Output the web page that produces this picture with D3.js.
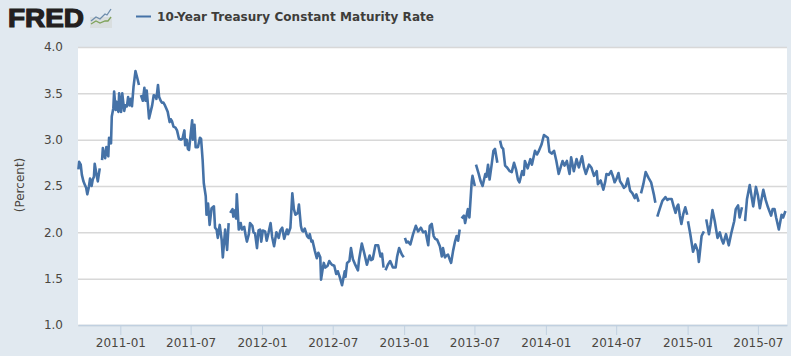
<!DOCTYPE html>
<html>
<head>
<meta charset="utf-8">
<script src="https://cdn.jsdelivr.net/npm/d3@7"></script>
<style>
    html, body { margin: 0; padding: 0; background: #e1e9f0; overflow: hidden; }
    text { font-family: "DejaVu Sans", sans-serif; }
</style>
</head>
<body>
<div id="chart"></div>
<script>
const seriesName = '10-Year Treasury Constant Maturity Rate';
const yAxisLabel = '(Percent)';
const yTicks = [1.0, 1.5, 2.0, 2.5, 3.0, 3.5, 4.0];
const xTicks = ['2011-01', '2011-07', '2012-01', '2012-07', '2013-01', '2013-07', '2014-01', '2014-07', '2015-01', '2015-07'];
const xDomain = ['2010-09-14', '2015-09-14'];

// [month-day, percent], null = holiday gap in the line
const rates2010 = [['09-15',2.68],['09-17',2.76],['09-21',2.73],['09-24',2.62],['09-28',2.55],['10-01',2.52],['10-05',2.48],['10-08',2.41],['10-12',2.49],['10-15',2.58],['10-19',2.50],['10-22',2.57],['10-25',2.60],['10-27',2.74],['10-31',2.64],['11-04',2.55],['11-09',2.69],['11-11',null],['11-15',2.78],['11-17',2.91],['11-20',2.84],['11-23',2.80],['11-26',2.92],['12-01',2.82],['12-03',3.02],['12-08',2.96],['12-10',3.25],['12-14',3.34],['12-16',3.52],['12-20',3.32],['12-22',3.41],['12-27',3.30],['12-29',3.50]];
const rates2011 = [['01-03',3.30],['01-06',3.50],['01-11',3.31],['01-14',3.37],['01-18',3.36],['01-21',3.46],['01-25',3.37],['01-28',3.44],['01-31',3.36],['02-04',3.57],['02-09',3.74],['02-14',3.66],['02-18',3.59],['02-21',null],['02-23',3.48],['02-28',3.42],['03-04',3.56],['03-07',3.42],['03-10',3.53],['03-13',3.38],['03-16',3.23],['03-20',3.30],['03-24',3.37],['03-28',3.48],['04-01',3.47],['04-04',3.44],['04-08',3.59],['04-11',3.46],['04-15',3.42],['04-18',3.40],['04-22',3.40],['04-26',3.37],['04-30',3.33],['05-03',3.30],['05-08',3.19],['05-11',3.22],['05-14',3.20],['05-18',3.14],['05-23',3.13],['05-27',3.10],['06-01',3.01],['06-06',3.00],['06-10',3.01],['06-15',3.10],['06-17',2.94],['06-21',3.00],['06-24',2.90],['06-27',2.89],['07-01',3.05],['07-05',3.21],['07-07',3.00],['07-11',3.16],['07-14',2.92],['07-20',2.92],['07-25',3.02],['07-28',3.01],['08-01',2.78],['08-04',2.53],['08-09',2.39],['08-11',2.19],['08-15',2.31],['08-19',2.08],['08-24',2.26],['08-30',2.28],['09-02',2.05],['09-06',2.03],['09-09',1.94],['09-14',2.08],['09-19',1.92],['09-22',1.73],['09-28',2.03],['10-03',1.81],['10-07',2.10],['10-10',null],['10-11',2.21],['10-17',2.25],['10-19',2.17],['10-24',2.24],['10-26',2.15],['10-28',2.41],['11-02',2.03],['11-07',2.10],['11-10',2.03],['11-16',2.06],['11-20',1.96],['11-23',1.90],['11-28',1.98],['12-01',2.10],['12-07',2.07],['12-10',2.00],['12-14',1.99],['12-19',1.83],['12-23',2.02],['12-27',2.03],['12-30',1.90]];
const rates2012 = [['01-03',2.02],['01-09',2.01],['01-13',1.91],['01-18',2.00],['01-23',2.10],['01-27',1.95],['02-01',1.85],['02-07',2.00],['02-13',1.94],['02-17',2.02],['02-22',2.05],['02-27',1.93],['03-05',2.03],['03-08',1.98],['03-14',2.05],['03-19',2.42],['03-23',2.25],['03-27',2.19],['04-02',2.21],['04-05',2.30],['04-10',2.07],['04-13',2.02],['04-16',2.01],['04-20',2.04],['04-26',1.96],['04-30',1.94],['05-03',1.98],['05-07',1.90],['05-10',1.91],['05-16',1.80],['05-21',1.72],['05-25',1.78],['05-30',1.73],['06-01',1.49],['06-05',1.60],['06-08',1.67],['06-12',1.62],['06-18',1.64],['06-22',1.69],['06-25',1.67],['06-29',1.65],['07-05',1.64],['07-10',1.55],['07-14',1.58],['07-19',1.52],['07-25',1.43],['08-01',1.58],['08-03',1.52],['08-07',1.67],['08-13',1.69],['08-17',1.83],['08-22',1.71],['08-27',1.66],['09-04',1.59],['09-07',1.71],['09-14',1.88],['09-20',1.78],['09-27',1.65],['10-04',1.75],['10-08',1.70],['10-12',1.71],['10-19',1.86],['10-26',1.86],['11-01',1.74],['11-05',1.77],['11-09',1.62],['11-12',null],['11-14',1.59],['11-20',1.65],['11-26',1.69],['12-03',1.62],['12-10',1.62],['12-14',1.74],['12-19',1.83],['12-26',1.76],['12-31',1.73]];
const rates2013 = [['01-01',null],['01-03',1.94],['01-07',1.89],['01-11',1.90],['01-17',1.87],['01-24',1.98],['01-31',2.07],['02-06',2.01],['02-13',2.05],['02-19',2.00],['02-25',2.01],['03-04',1.86],['03-08',2.07],['03-13',2.09],['03-18',1.96],['03-22',1.93],['03-27',1.92],['04-03',1.85],['04-08',1.74],['04-11',1.83],['04-16',1.73],['04-20',1.75],['04-24',1.76],['04-29',1.70],['05-02',1.67],['05-07',1.80],['05-12',1.90],['05-16',1.96],['05-20',1.91],['05-24',2.03],['05-27',null],['05-29',2.15],['06-04',2.18],['06-07',2.10],['06-14',2.25],['06-18',2.16],['06-24',2.55],['06-26',2.61],['07-02',2.50],['07-04',null],['07-05',2.73],['07-12',2.63],['07-17',2.55],['07-22',2.50],['07-29',2.63],['08-01',2.60],['08-05',2.73],['08-09',2.57],['08-14',2.72],['08-19',2.88],['08-23',2.90],['08-29',2.75],['09-02',null],['09-05',2.99],['09-09',2.92],['09-13',2.90],['09-18',2.72],['09-23',2.70],['09-30',2.66],['10-05',2.65],['10-11',2.75],['10-16',2.68],['10-21',2.57],['10-25',2.54],['11-01',2.66],['11-05',2.62],['11-08',2.77],['11-15',2.69],['11-22',2.79],['11-26',2.73],['12-04',2.88],['12-09',2.84],['12-13',2.87],['12-17',2.91],['12-21',2.95],['12-27',3.05]];
const rates2014 = [['01-06',3.02],['01-10',2.87],['01-16',2.85],['01-22',2.88],['01-28',2.77],['02-03',2.63],['02-08',2.70],['02-13',2.77],['02-18',2.72],['02-24',2.77],['03-03',2.63],['03-07',2.81],['03-14',2.66],['03-21',2.79],['03-27',2.70],['04-04',2.82],['04-09',2.70],['04-14',2.63],['04-22',2.73],['04-28',2.70],['05-05',2.61],['05-12',2.66],['05-15',2.52],['05-22',2.56],['05-29',2.46],['06-03',2.55],['06-06',2.63],['06-12',2.62],['06-18',2.66],['06-23',2.60],['06-27',2.54],['07-02',2.58],['07-07',2.64],['07-11',2.55],['07-16',2.52],['07-21',2.48],['07-26',2.50],['07-31',2.58],['08-06',2.45],['08-12',2.42],['08-18',2.37],['08-22',2.41],['08-28',2.33],['09-01',null],['09-03',2.42],['09-09',2.52],['09-15',2.65],['09-22',2.59],['09-29',2.54],['10-06',2.41],['10-10',2.32],['10-13',null],['10-15',2.17],['10-21',2.25],['10-28',2.34],['11-05',2.38],['11-10',2.35],['11-14',2.36],['11-21',2.36],['11-26',2.28],['12-01',2.21],['12-05',2.28],['12-08',2.30],['12-12',2.18],['12-16',2.09],['12-21',2.20],['12-26',2.27],['12-31',2.19]];
const rates2015 = [['01-01',null],['01-02',2.12],['01-08',1.98],['01-15',1.79],['01-21',1.87],['01-27',1.80],['01-30',1.68],['02-06',1.96],['02-12',2.01],['02-16',null],['02-18',2.14],['02-25',1.98],['03-01',2.08],['03-06',2.24],['03-12',2.12],['03-19',1.94],['03-25',2.00],['03-30',1.92],['04-03',1.88],['04-10',1.98],['04-17',1.86],['04-24',2.00],['05-01',2.12],['05-05',2.25],['05-11',2.29],['05-15',2.16],['05-21',2.27],['05-25',null],['05-29',2.12],['06-03',2.36],['06-10',2.51],['06-15',2.38],['06-19',2.28],['06-26',2.49],['07-01',2.40],['07-06',2.26],['07-15',2.46],['07-21',2.35],['07-27',2.27],['08-04',2.18],['08-08',2.25],['08-13',2.25],['08-17',2.16],['08-24',2.03],['08-31',2.19],['09-04',2.16],['09-10',2.23]];

const W = 791, H = 356;
const margin = {top: 47, right: 4, bottom: 31, left: 78};
const plotW = W - margin.left - margin.right;
const plotH = H - margin.top - margin.bottom;

const parseDay = d3.timeParse('%Y-%m-%d');
const parseMonth = d3.timeParse('%Y-%m');
const withYear = (year, rows) => rows.map(r => ({date: parseDay(`${year}-${r[0]}`), value: r[1]}));
const data = [].concat(
    withYear(2010, rates2010), withYear(2011, rates2011), withYear(2012, rates2012),
    withYear(2013, rates2013), withYear(2014, rates2014), withYear(2015, rates2015)
);

const lineColor = '#4572a7';
const textColor = '#4a4640';

const svg = d3.select('#chart').append('svg')
    .attr('width', W)
    .attr('height', H)
    .style('display', 'block');

const x = d3.scaleTime().domain(xDomain.map(parseDay)).range([0, plotW]);
const y = d3.scaleLinear().domain([1, 4]).range([plotH, 0]);

const plot = svg.append('g').attr('transform', `translate(${margin.left},${margin.top})`);

plot.append('rect').attr('width', plotW).attr('height', plotH).attr('fill', '#fff');

// Gridlines and labels
const yAxis = plot.append('g')
    .call(d3.axisLeft(y).tickValues(yTicks).tickFormat(d3.format('.1f')).tickSize(-plotW).tickPadding(15));
yAxis.select('.domain').remove();
yAxis.selectAll('line').attr('stroke', '#d8d8d8').attr('stroke-width', 1.5);
yAxis.selectAll('text').attr('fill', textColor).style('font-size', '12px');

const xAxis = plot.append('g')
    .attr('transform', `translate(0,${plotH})`)
    .call(d3.axisBottom(x).tickValues(xTicks.map(parseMonth)).tickFormat(d3.timeFormat('%Y-%m')).tickSize(10).tickSizeOuter(0).tickPadding(3));
xAxis.select('.domain').attr('stroke', '#c0d0e0').attr('stroke-width', 1.5);
xAxis.selectAll('line').attr('stroke', '#c0d0e0');
xAxis.selectAll('text').attr('fill', textColor).style('font-size', '12px');

const line = d3.line()
    .defined(d => d.value !== null)
    .x(d => x(d.date))
    .y(d => y(d.value));

plot.append('path')
    .datum(data)
    .attr('fill', 'none')
    .attr('stroke', lineColor)
    .attr('stroke-width', 2.6)
    .attr('stroke-linejoin', 'round')
    .attr('d', line);

svg.append('text')
    .attr('transform', `translate(24,${margin.top + plotH / 2 - 1}) rotate(-90)`)
    .attr('text-anchor', 'middle')
    .attr('fill', textColor)
    .style('font-size', '12px')
    .text(yAxisLabel);

// Legend
svg.append('line')
    .attr('x1', 136).attr('x2', 151).attr('y1', 16.5).attr('y2', 16.5)
    .attr('stroke', lineColor).attr('stroke-width', 2);
svg.append('text')
    .attr('x', 157).attr('y', 21)
    .attr('fill', '#3e3d3a')
    .attr('textLength', 277)
    .style('font-size', '12px')
    .style('font-weight', 'bold')
    .text(seriesName);

// FRED logo
svg.append('text')
    .attr('x', 8).attr('y', 27)
    .attr('fill', '#231f20')
    .attr('stroke', '#231f20')
    .attr('stroke-width', 1.2)
    .attr('textLength', 76)
    .attr('lengthAdjust', 'spacingAndGlyphs')
    .style('font-family', '"Liberation Sans", sans-serif')
    .style('font-size', '26px')
    .style('font-weight', 'bold')
    .text('FRED');
const logo = svg.append('g').attr('transform', 'translate(90,8)').attr('fill', 'none');
logo.append('rect').attr('y', 9).attr('width', 22).attr('height', 11).attr('fill', '#d9dedf');
logo.append('path').attr('d', 'M1,13 L6,9 L10,11 L15,6 L17,7 L21,1').attr('stroke', '#6d8cab').attr('stroke-width', 1.3);
logo.append('path').attr('d', 'M1,16 L6,13 L10,15 L15,13 L18,13 L21,9').attr('stroke', '#7fa35a').attr('stroke-width', 1.3);
</script>
</body>
</html>
